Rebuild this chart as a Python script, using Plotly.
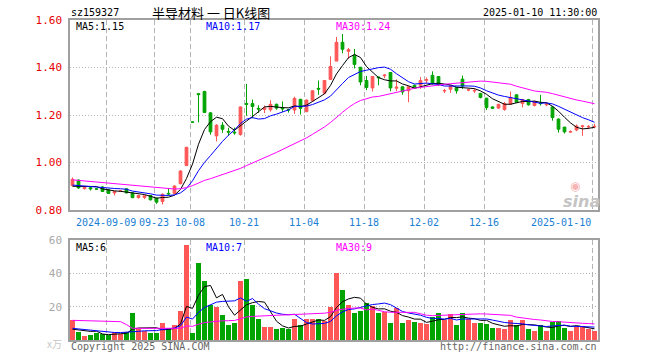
import plotly.graph_objects as go
import pandas as pd

# ---------------- data ----------------
open_ = [0.903, 0.926, 0.890, 0.894, 0.889, 0.897, 0.885, 0.872, 0.879, 0.889,
         0.872, 0.852, 0.853, 0.861, 0.850, 0.836, 0.870, 0.870, 0.911, 0.987,
         1.171, 1.290, 1.299, 1.209, 1.112, 1.157, 1.131, 1.128, 1.118, 1.248,
         1.248, 1.228, 1.223, 1.222, 1.245, 1.229, 1.223, 1.221, 1.266, 1.214,
         1.260, 1.312, 1.292, 1.350, 1.427, 1.506, 1.468, 1.452, 1.401, 1.345,
         1.314, 1.360, 1.365, 1.379, 1.313, 1.319, 1.302, 1.325, 1.325, 1.346,
         1.367, 1.362, 1.301, 1.308, 1.316, 1.351, 1.305, 1.301, 1.291, 1.271,
         1.234, 1.229, 1.223, 1.245, 1.285, 1.248, 1.265, 1.240, 1.250, 1.243,
         1.234, 1.183, 1.149, 1.128, 1.137, 1.152, 1.150, 1.150]
high = [0.937, 0.928, 0.900, 0.897, 0.892, 0.900, 0.887, 0.880, 0.884, 0.891,
        0.873, 0.864, 0.862, 0.863, 0.852, 0.870, 0.893, 0.904, 0.968, 1.066,
        1.171, 1.292, 1.302, 1.212, 1.162, 1.170, 1.146, 1.147, 1.236, 1.331,
        1.265, 1.241, 1.240, 1.262, 1.248, 1.257, 1.226, 1.277, 1.268, 1.265,
        1.305, 1.345, 1.347, 1.447, 1.529, 1.541, 1.482, 1.478, 1.401, 1.364,
        1.362, 1.362, 1.372, 1.380, 1.350, 1.320, 1.320, 1.328, 1.360, 1.358,
        1.384, 1.364, 1.310, 1.325, 1.318, 1.366, 1.310, 1.312, 1.293, 1.272,
        1.236, 1.247, 1.255, 1.299, 1.287, 1.268, 1.268, 1.260, 1.285, 1.255,
        1.236, 1.185, 1.150, 1.135, 1.160, 1.157, 1.157, 1.163]
low = [0.900, 0.889, 0.886, 0.882, 0.885, 0.876, 0.868, 0.861, 0.876, 0.870,
       0.850, 0.848, 0.846, 0.840, 0.826, 0.823, 0.862, 0.866, 0.908, 0.985,
       1.170, 1.169, 1.208, 1.117, 1.089, 1.125, 1.112, 1.117, 1.113, 1.197,
       1.186, 1.209, 1.208, 1.214, 1.222, 1.213, 1.210, 1.205, 1.202, 1.212,
       1.255, 1.285, 1.288, 1.348, 1.427, 1.460, 1.437, 1.396, 1.325, 1.305,
       1.299, 1.325, 1.355, 1.300, 1.300, 1.285, 1.254, 1.312, 1.310, 1.333,
       1.328, 1.322, 1.292, 1.293, 1.290, 1.310, 1.300, 1.293, 1.270, 1.221,
       1.225, 1.226, 1.218, 1.245, 1.252, 1.232, 1.240, 1.236, 1.240, 1.237,
       1.176, 1.126, 1.122, 1.125, 1.132, 1.112, 1.140, 1.144]
close = [0.929, 0.893, 0.896, 0.889, 0.888, 0.878, 0.870, 0.878, 0.880, 0.872,
         0.852, 0.861, 0.860, 0.843, 0.833, 0.866, 0.868, 0.901, 0.964, 1.064,
         1.170, 1.286, 1.211, 1.129, 1.157, 1.140, 1.128, 1.125, 1.234, 1.245,
         1.236, 1.225, 1.230, 1.245, 1.229, 1.226, 1.221, 1.270, 1.228, 1.263,
         1.302, 1.309, 1.345, 1.404, 1.506, 1.477, 1.475, 1.413, 1.339, 1.316,
         1.362, 1.357, 1.368, 1.314, 1.317, 1.297, 1.319, 1.316, 1.345, 1.349,
         1.331, 1.328, 1.303, 1.322, 1.302, 1.322, 1.306, 1.303, 1.274, 1.231,
         1.228, 1.245, 1.248, 1.274, 1.254, 1.265, 1.243, 1.257, 1.248, 1.246,
         1.189, 1.140, 1.129, 1.130, 1.154, 1.154, 1.152, 1.152]
volume = [12.0, 4.8, 2.4, 3.2, 4.0, 3.6, 2.8, 4.8, 3.6, 4.8,
          16.4, 6.4, 5.6, 4.4, 4.0, 10.4, 7.2, 8.8, 17.6, 56.8,
          4.4, 46.4, 35.2, 20.8, 19.6, 14.8, 9.2, 10.0, 35.2, 36.4,
          21.2, 12.8, 8.0, 8.0, 6.4, 7.2, 6.4, 12.8, 8.8, 12.8,
          12.8, 12.8, 11.6, 20.0, 40.4, 30.0, 21.2, 16.4, 17.6, 22.4,
          20.4, 16.4, 16.8, 10.4, 19.2, 10.4, 12.0, 10.8, 10.0, 9.6,
          14.0, 16.4, 12.0, 15.6, 9.2, 16.4, 12.4, 10.4, 10.4, 9.6,
          7.2, 7.2, 6.8, 12.0, 8.8, 12.0, 6.8, 5.6, 9.2, 5.2,
          10.8, 11.6, 7.2, 5.6, 8.0, 8.0, 6.8, 5.2]
# sessions before the visible window (estimated from where the MA lines start)
prior_close = [0.965, 0.960, 0.958, 0.955, 0.950, 0.945, 0.948, 0.940, 0.935, 0.938,
               0.930, 0.932, 0.928, 0.925, 0.921, 0.930, 0.928, 0.925, 0.924, 0.923,
               0.918, 0.915, 0.910, 0.905, 0.902, 0.895, 0.890, 0.892, 0.893]
prior_volume = [7.5, 6.0, 8.2, 5.5, 6.8, 7.0, 5.8, 6.2, 58.0, 83.0,
                6.5, 7.0, 5.8, 6.4, 6.0, 6.3, 14.0, 12.5, 13.5, 12.0,
                8.0, 7.2, 7.6, 7.2, 7.5, 6.8, 6.4, 3.9, 3.4]
tick_idx = [6, 14, 20, 29, 39, 49, 59, 69, 87]
tick_text = ["2024-09-09", "09-23", "10-08", "10-21", "11-04",
             "11-18", "12-02", "12-16", "2025-01-10"]
price_ticks = [0.80, 1.00, 1.20, 1.40, 1.60]
vol_ticks = [20, 40, 60]
code = "sz159327"
title = "半导材料 一 日K线图"
stamp = "2025-01-10 11:30:00"
ma_price_labels = ["MA5:1.15", "MA10:1.17", "MA30:1.24"]
ma_vol_labels = ["MA5:6", "MA10:7", "MA30:9"]

# ---------------- styling ----------------
RED = "#ff5656"
GREEN = "#00a400"
MA_COLORS = ["#000000", "#0000ff", "#ff00ff"]
MONO = "DejaVu Sans Mono"
W, H = 660, 360
L, R, T, B = 70, 62, 20, 20
PW, PH = W - L - R, H - T - B
GRID_OFF = 0.37

def px(x):
    return (x - L) / PW

def py(y):
    return (H - B - y) / PH

n = len(close)
x = list(range(n))
full_c = pd.Series(prior_close + close)
full_v = pd.Series(prior_volume + volume)
ma_p = [full_c.rolling(k).mean().iloc[-n:].tolist() for k in (5, 10, 30)]
ma_v = [full_v.rolling(k).mean().iloc[-n:].tolist() for k in (5, 10, 30)]
vcol = [RED if c > o else GREEN for o, c in zip(open_, close)]

fig = go.Figure()
fig.add_trace(go.Candlestick(
    x=x, open=open_, high=high, low=low, close=close,
    increasing=dict(line=dict(color=RED, width=1), fillcolor=RED),
    decreasing=dict(line=dict(color=GREEN, width=1), fillcolor=GREEN),
    whiskerwidth=0, xaxis="x", yaxis="y", showlegend=False, hoverinfo="skip"))
for m, c in zip(ma_p, MA_COLORS):
    fig.add_trace(go.Scatter(x=x, y=m, mode="lines", line=dict(color=c, width=1),
                             xaxis="x", yaxis="y", showlegend=False, hoverinfo="skip"))
fig.add_trace(go.Bar(x=x, y=volume, marker=dict(color=vcol, line=dict(width=0)),
                     width=0.78, xaxis="x2", yaxis="y2", showlegend=False,
                     hoverinfo="skip"))
for m, c in zip(ma_v, MA_COLORS):
    fig.add_trace(go.Scatter(x=x, y=m, mode="lines", line=dict(color=c, width=1),
                             xaxis="x2", yaxis="y2", showlegend=False, hoverinfo="skip"))

xr = [-0.417, n - 1 + 0.583]
gridx = [t - GRID_OFF for t in tick_idx]
xcommon = dict(range=xr, tickvals=gridx, showticklabels=False, ticks="",
               showgrid=True, gridcolor="#b4b4b4", griddash="5px,3px", gridwidth=1,
               showline=True, mirror=True, linecolor="#a0a0a0", linewidth=1.5,
               zeroline=False, fixedrange=True)
fig.update_layout(
    width=W, height=H, margin=dict(l=L, r=R, t=T, b=B),
    paper_bgcolor="white", plot_bgcolor="white", boxgap=0.35, bargap=0,
    xaxis=dict(domain=[0, 1], anchor="y", rangeslider=dict(visible=False), **xcommon),
    xaxis2=dict(domain=[0, 1], anchor="y2", **xcommon),
    yaxis=dict(domain=[py(210), py(20)], anchor="x", range=[0.80, 1.60],
               tickvals=price_ticks, ticktext=[f"{v:.2f}" for v in price_ticks],
               tickfont=dict(family=MONO, size=11, color="#e60000"),
               showgrid=True, gridcolor="#b4b4b4", griddash="1px,2px",
               showline=True, mirror=True, linecolor="#a0a0a0", linewidth=1.5,
               zeroline=False, ticks="", ticklabelstandoff=4),
    yaxis2=dict(domain=[0, py(240)], anchor="x2", range=[0, 60],
                tickvals=vol_ticks, ticktext=[str(v) for v in vol_ticks],
                tickfont=dict(family=MONO, size=11, color="#a8a8a8"),
                showgrid=True, gridcolor="#b4b4b4", griddash="1px,2px",
                showline=True, mirror=True, linecolor="#a0a0a0", linewidth=1.5,
                zeroline=False, ticks="", ticklabelstandoff=4),
)

ann = []
def text(t, xpx, ypx, color="#000", size=10, anchor="left", family=MONO):
    ann.append(dict(text=t, x=px(xpx), y=py(ypx), xref="paper", yref="paper",
                    xanchor=anchor, yanchor="middle", showarrow=False,
                    font=dict(family=family, size=size, color=color)))

text(code, 69, 13)
text(title, 150, 13, size=13, family="Noto Sans CJK SC")
text(stamp, 599, 13, anchor="right")
for lab, c, xx in zip(ma_price_labels, MA_COLORS, (74, 204, 334)):
    text(lab, xx, 27, color=c)
for lab, c, xx in zip(ma_vol_labels, MA_COLORS, (74, 204, 334)):
    text(lab, xx, 247, color=c)
for i, (t, g) in enumerate(zip(tick_text, gridx)):
    xg = L + (g - xr[0]) * PW / (xr[1] - xr[0])
    if i == len(tick_text) - 1:
        text(t, xg + 1, 222, color="#1a7fd4", anchor="right")
    else:
        text(t, xg, 222, color="#1a7fd4", anchor="center")
text("Copyright 2025 SINA.COM", 69, 346, color="#666")
text("http://finance.sina.com.cn", 599, 346, color="#666", anchor="right")
text("x万", 64, 343, color="#c8c8c8", size=10, anchor="right", family="Noto Sans CJK SC")
text("◉", 575, 186, color="#f6b4b4", size=12, anchor="center", family="DejaVu Sans")
text("<b><i>sina</i></b>", 581, 201, color="#c4c4c4", size=16, anchor="center",
     family="DejaVu Sans")
fig.update_layout(annotations=ann)

fig.write_html("out.html", post_script="document.body.style.margin='0';",
               config={"displayModeBar": False})
